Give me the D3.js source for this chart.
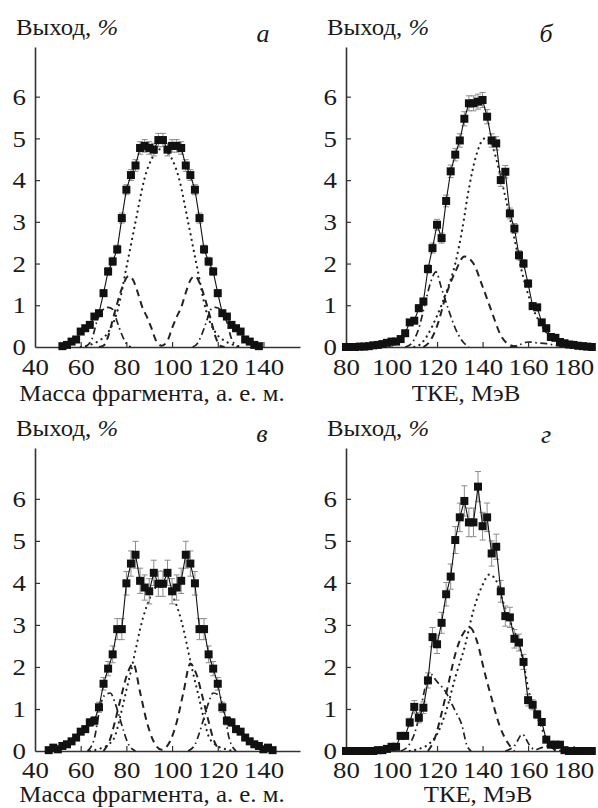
<!DOCTYPE html>
<html><head><meta charset="utf-8">
<script src="https://cdn.jsdelivr.net/npm/d3@7"></script>
<style>body{margin:0;background:#fff}</style>
</head><body>
<svg id="c" width="598" height="808"></svg>
<script>
// ---------- data ----------
const massTicks = [40,60,80,100,120,140];
const tkeTicks  = [80,100,120,140,160,180];
const yTicks    = [0,1,2,3,4,5,6];
const yLabel = "Выход, ";
const massTitle = "Масса фрагмента, а. е. м.";
const tkeTitle  = "ТКЕ, МэВ";
const panelLetters = ["а","б","в","г"];

// panel а : mass distribution
const massA  = [52,54,56,58,60,62,64,66,68,70,72,74,76,78,80,82,84,86,88,90,92,94,96,98,100,102,104,106,108,110,112,114,116,118,120,122,124,126,128,130,132,134,136,138];
const yieldA = [0.02,0.05,0.13,0.18,0.37,0.45,0.53,0.73,0.81,1.29,1.81,2.05,2.34,3.09,3.77,4.12,4.35,4.77,4.82,4.77,4.73,4.96,4.96,4.73,4.82,4.82,4.77,4.35,4.12,3.77,3.09,2.34,2.05,1.81,1.29,0.81,0.73,0.53,0.45,0.37,0.18,0.13,0.05,0.02];
const errA   = [0,0,0.02,0.02,0.03,0.04,0.05,0.05,0.06,0.08,0.09,0.1,0.1,0.12,0.12,0.13,0.14,0.15,0.15,0.15,0.15,0.16,0.16,0.15,0.15,0.15,0.15,0.14,0.13,0.12,0.12,0.1,0.1,0.09,0.08,0.06,0.05,0.05,0.04,0.03,0.02,0.02,0,0];
const dotA_x  = [60,64,68,72,76,80,84,88,91,95.5,100,103,107,111,115,119,123,127,131];
const dotA_y  = [0,0.05,0.15,0.35,0.85,1.9,3.0,4.05,4.5,4.75,4.5,4.05,3.0,1.9,0.85,0.35,0.15,0.05,0];
const dashA_x = [68,70,72,74,76,78,81,83,85,87,89,91,93,95.5,98,100,102,104,106,108,110,113,115,117,119,121,123];
const dashA_y = [0,0.03,0.25,0.65,1.05,1.4,1.7,1.6,1.3,0.95,0.72,0.45,0.15,0.03,0.15,0.45,0.72,0.95,1.3,1.6,1.7,1.4,1.05,0.65,0.25,0.03,0];
const ddA_x   = [62,65,67,69,72,74,76,78,80,82,95,109,111,113,115,117,119,122,124,126,129];
const ddA_y   = [0,0.2,0.6,0.85,0.95,0.9,0.6,0.3,0.08,0,null,0,0.08,0.3,0.6,0.9,0.95,0.85,0.6,0.2,0];

// panel б : TKE distribution
const tkeB   = [80,82,84,86,88,90,92,94,96,98,100,102,104,106,108,110,112,114,116,118,120,122,124,126,128,130,132,134,136,138,140,142,144,146,148,150,152,154,156,158,160,162,164,166,168,170,172,174,176,178,180,182,184,186,188];
const yieldB = [0,0,0,0.01,0.01,0.02,0.04,0.05,0.07,0.1,0.13,0.13,0.19,0.33,0.59,0.63,0.93,1.09,1.87,2.37,2.93,2.61,3.5,4.21,4.61,4.95,5.47,5.84,5.84,5.88,5.92,5.52,4.95,4.88,4.0,4.2,3.2,2.84,2.2,2.0,1.52,0.98,0.95,0.59,0.45,0.24,0.22,0.12,0.09,0.06,0.05,0.03,0.02,0.01,0];
const errB   = [0,0,0,0,0,0,0.01,0.01,0.02,0.02,0.03,0.03,0.04,0.05,0.06,0.06,0.08,0.08,0.1,0.12,0.13,0.12,0.14,0.15,0.15,0.16,0.17,0.18,0.18,0.18,0.18,0.17,0.16,0.16,0.15,0.15,0.13,0.12,0.11,0.1,0.09,0.07,0.07,0.05,0.04,0.03,0.03,0.02,0.01,0.01,0,0,0,0,0];
const dotB_x  = [110,113,116,120,124,128,131,134,137,141,144,147,150,153,156,159,162,165,168,172,176,180];
const dotB_y  = [0,0.08,0.3,0.75,1.3,2.0,2.8,3.8,4.55,5.0,4.85,4.3,3.6,2.85,2.1,1.45,0.95,0.6,0.35,0.15,0.05,0];
const dashB_x = [114,117,120,124,128,132,136,140,144,148,152,156];
const dashB_y = [0,0.15,0.5,1.25,1.8,2.17,2.0,1.45,0.85,0.28,0.05,0];
const ddB_x   = [106,109,112,115,117.5,119.5,122,125,128,131,134,143,152,156,160,164,168,172,176];
const ddB_y   = [0,0.1,0.45,1.1,1.6,1.8,1.4,0.9,0.45,0.15,0,null,0,0.05,0.12,0.1,0.08,0.04,0];

// panel в : mass distribution
const massC  = [46,48,50,52,54,56,58,60,62,64,66,68,70,72,74,76,78,80,82,84,86,88,90,92,94,96,98,100,102,104,106,108,110,112,114,116,118,120,122,124,126,128,130,132,134,136,138,140,142,144];
const yieldC = [0.02,0.08,0.04,0.12,0.16,0.23,0.32,0.46,0.52,0.68,0.72,1.04,1.6,1.96,2.3,2.9,2.9,3.99,4.46,4.67,4.05,3.89,3.8,4.24,3.98,3.98,4.24,3.8,3.89,4.05,4.67,4.46,3.99,2.9,2.9,2.3,1.96,1.6,1.04,0.72,0.68,0.52,0.46,0.32,0.23,0.16,0.12,0.04,0.08,0.02];
const errC   = [0,0.02,0.02,0.03,0.04,0.05,0.06,0.07,0.08,0.09,0.1,0.12,0.15,0.17,0.2,0.25,0.25,0.28,0.3,0.32,0.3,0.3,0.3,0.3,0.3,0.3,0.3,0.3,0.3,0.3,0.32,0.3,0.28,0.25,0.25,0.2,0.17,0.15,0.12,0.1,0.09,0.08,0.07,0.06,0.05,0.04,0.03,0.02,0.02,0];
const dotC_x  = [64,68,72,75,77,80,82,84,86,88,90,92,95.5,99,101,103,105,107,109,111,114,116,119,123,127];
const dotC_y  = [0,0.05,0.15,0.35,0.75,1.45,1.9,2.4,2.9,3.3,3.6,3.85,3.95,3.85,3.6,3.3,2.9,2.4,1.9,1.45,0.75,0.35,0.15,0.05,0];
const dashC_x = [70,73,75,77.5,80.5,83,86,89,92,95.5,99,102,105,108,110.5,113.5,116,118,121];
const dashC_y = [0,0.3,0.7,1.25,1.85,2.08,1.4,0.68,0.22,0.03,0.22,0.68,1.4,2.08,1.85,1.25,0.7,0.3,0];
const ddC_x   = [63,66,68,70,73,75,77,79,81,84,95,107,110,112,114,116,118,121,123,125,128];
const ddC_y   = [0,0.3,0.9,1.3,1.38,1.15,0.8,0.44,0.15,0,null,0,0.15,0.44,0.8,1.15,1.38,1.3,0.9,0.3,0];

// panel г : TKE distribution
const tkeD   = [80,82,84,86,88,90,92,94,96,98,100,102,104,106,108,110,112,114,116,118,120,122,124,126,128,130,132,134,136,138,140,142,144,146,148,150,152,154,156,158,160,162,164,166,168,170,172,174,176,178,180,182,184,186,188];
const yieldD = [0,0,0,0,0,0,0,0.02,0.02,0.05,0.1,0.1,0.36,0.36,0.68,1.05,0.79,1.03,1.68,2.71,2.54,3.05,3.73,4.15,5.02,5.56,5.95,5.44,5.44,6.29,5.35,5.56,4.7,4.86,3.8,3.21,3.18,2.67,2.58,2.12,1.21,1.1,0.87,0.69,0.27,0.15,0.15,0.15,0.02,0,0,0,0,0,0];
const errD   = [0,0,0,0,0,0,0,0.01,0.01,0.02,0.03,0.03,0.06,0.06,0.1,0.15,0.12,0.14,0.18,0.23,0.22,0.25,0.28,0.3,0.32,0.34,0.36,0.34,0.34,0.36,0.33,0.34,0.3,0.3,0.26,0.24,0.24,0.22,0.2,0.18,0.14,0.12,0.1,0.08,0.05,0.04,0.04,0.04,0.01,0,0,0,0,0,0];
const dotD_x  = [108,112,116,120,124,128,132,136,140,143,146,149,152,155,158,160,163,166,168,171,175];
const dotD_y  = [0,0.05,0.15,0.4,0.95,1.75,2.45,3.35,3.95,4.2,4.05,3.55,3.1,2.7,2.1,1.5,0.95,0.55,0.26,0.08,0];
const dashD_x = [116,119,122,125,128,131,134.5,137.5,141,144,147.5,151,154];
const dashD_y = [0,0.3,0.9,1.6,2.3,2.75,2.93,2.62,1.85,1.25,0.6,0.2,0];
const ddD_x   = [104,107,110,112.5,114.5,116.5,120,123.5,128,131,133,135,142,150,154,157.5,160.5,163,166,169,172];
const ddD_y   = [0,0.1,0.4,0.9,1.45,1.86,1.65,1.43,0.95,0.6,0.15,0,null,0,0.12,0.4,0.15,0.03,0.08,0.12,0];

// ---------- layout ----------
const FF = "Liberation Serif";
const FONT = 24, SX = 1.12;
const panels = [
  {x:massA, y:yieldA, e:errA, dot:[dotA_x,dotA_y], dash:[dashA_x,dashA_y], dd:[ddA_x,ddA_y],
   xd:[40,156], xr:[35,300], yb:347, yt:47, ymax:7.19, ticks:massTicks, title:massTitle, tx:152, ty:401, lx:16, lty:35, letter:panelLetters[0], ltx:263, lty2:42, xpad:11},
  {x:tkeB, y:yieldB, e:errB, dot:[dotB_x,dotB_y], dash:[dashB_x,dashB_y], dd:[ddB_x,ddB_y],
   xd:[80,189.4], xr:[346,595], yb:347, yt:47, ymax:7.19, ticks:tkeTicks, title:tkeTitle, tx:466, ty:401, lx:327, lty:35, letter:panelLetters[1], ltx:546, lty2:42, xpad:11},
  {x:massC, y:yieldC, e:errC, dot:[dotC_x,dotC_y], dash:[dashC_x,dashC_y], dd:[ddC_x,ddC_y],
   xd:[40,156], xr:[35,300], yb:751, yt:448, ymax:7.21, ticks:massTicks, title:massTitle, tx:152, ty:802, lx:16, lty:436, letter:panelLetters[2], ltx:262, lty2:442, xpad:10},
  {x:tkeD, y:yieldD, e:errD, dot:[dotD_x,dotD_y], dash:[dashD_x,dashD_y], dd:[ddD_x,ddD_y],
   xd:[80,189.4], xr:[346,595], yb:751, yt:448, ymax:7.21, ticks:tkeTicks, title:tkeTitle, tx:478, ty:802, lx:327, lty:436, letter:panelLetters[3], ltx:546, lty2:443, xpad:10}
];

const svg = d3.select("#c");

function addText(x, y, str, size, anchor, sx, italic){
  const t = svg.append("text")
    .attr("transform", `translate(${x},${y}) scale(${sx},1)`)
    .attr("text-anchor", anchor)
    .attr("font-family", FF)
    .attr("font-size", size)
    .attr("fill", "#1a1a1a")
    .text(str);
  if (italic) t.attr("font-style","italic");
  return t;
}

panels.forEach(p => {
  const x = d3.scaleLinear().domain(p.xd).range(p.xr);
  const y = d3.scaleLinear().domain([0, p.ymax]).range([p.yb, p.yt]);
  const g = svg.append("g");

  const comp = (xs, ys) => xs.map((v,i) => [v, ys[i]]);
  const cl = d3.line().defined(d => d[1] != null).x(d => x(d[0])).y(d => y(d[1])).curve(d3.curveMonotoneX);
  g.append("path").attr("d", cl(comp(...p.dot))).attr("fill","none").attr("stroke","#222")
    .attr("stroke-width",2.2).attr("stroke-linecap","round").attr("stroke-dasharray","0.1,5.5");
  g.append("path").attr("d", cl(comp(...p.dash))).attr("fill","none").attr("stroke","#222")
    .attr("stroke-width",2).attr("stroke-dasharray","7,5");
  g.append("path").attr("d", cl(comp(...p.dd))).attr("fill","none").attr("stroke","#222")
    .attr("stroke-width",1.7).attr("stroke-dasharray","7,3.5,1.6,3.5");

  const pts = p.x.map((v,i) => ({x:v, y:p.y[i], e:p.e[i] || 0}));

  const eb = g.append("g").attr("stroke","#8c8c8c").attr("stroke-width",1);
  pts.filter(d => d.e > 0.04).forEach(d => {
    const cx = x(d.x), y1 = y(d.y + d.e), y2 = y(Math.max(0, d.y - d.e));
    eb.append("line").attr("x1",cx).attr("x2",cx).attr("y1",y1).attr("y2",y2);
    eb.append("line").attr("x1",cx-3).attr("x2",cx+3).attr("y1",y1).attr("y2",y1);
    eb.append("line").attr("x1",cx-3).attr("x2",cx+3).attr("y1",y2).attr("y2",y2);
  });

  g.append("path").attr("d", d3.line().x(d => x(d.x)).y(d => y(d.y))(pts))
    .attr("fill","none").attr("stroke","#111").attr("stroke-width",1.1);

  const xa = d3.axisBottom(x).tickValues(p.ticks).tickSizeInner(-5).tickSizeOuter(0).tickPadding(p.xpad);
  const gx = svg.append("g").attr("transform", `translate(0,${p.yb})`).call(xa)
    .attr("font-family", FF).attr("font-size", FONT);
  gx.select(".domain").attr("stroke","#333").attr("stroke-width",1.6);
  gx.selectAll(".tick line").attr("stroke","#333").attr("stroke-width",1.2);
  gx.selectAll(".tick text").attr("fill","#1a1a1a").attr("font-family", FF).attr("font-size", FONT)
    .attr("transform",`scale(${SX},1)`);
  gx.selectAll(".tick").filter(d => d === p.xd[0]).select("line").remove();

  const ya = d3.axisLeft(y).tickValues(yTicks).tickSizeInner(-5).tickSizeOuter(0).tickPadding(8);
  const gy = svg.append("g").attr("transform", `translate(${p.xr[0]},0)`).call(ya)
    .attr("font-family", FF).attr("font-size", FONT);
  gy.select(".domain").attr("stroke","#333").attr("stroke-width",1.6);
  gy.selectAll(".tick line").attr("stroke","#333").attr("stroke-width",1.2);
  gy.selectAll(".tick text").attr("fill","#1a1a1a").attr("font-family", FF).attr("font-size", FONT)
    .attr("transform",`scale(${SX},1)`);
  gy.selectAll(".tick").filter(d => d === 0).select("line").remove();

  g.raise();
  svg.append("g").selectAll("rect").data(pts).join("rect")
    .attr("x", d => x(d.x) - 4).attr("y", d => y(d.y) - 4)
    .attr("width", 8).attr("height", 8).attr("fill","#111");

  const yl = addText(p.lx, p.lty, yLabel, 23, "start", 1.08, false);
  yl.append("tspan").attr("font-style","italic").text("%");
  addText(p.ltx, p.lty2, p.letter, 26, "middle", 1.0, true);
  addText(p.tx, p.ty, p.title, 23, "middle", 1.08, false);
});
</script>
</body></html>
